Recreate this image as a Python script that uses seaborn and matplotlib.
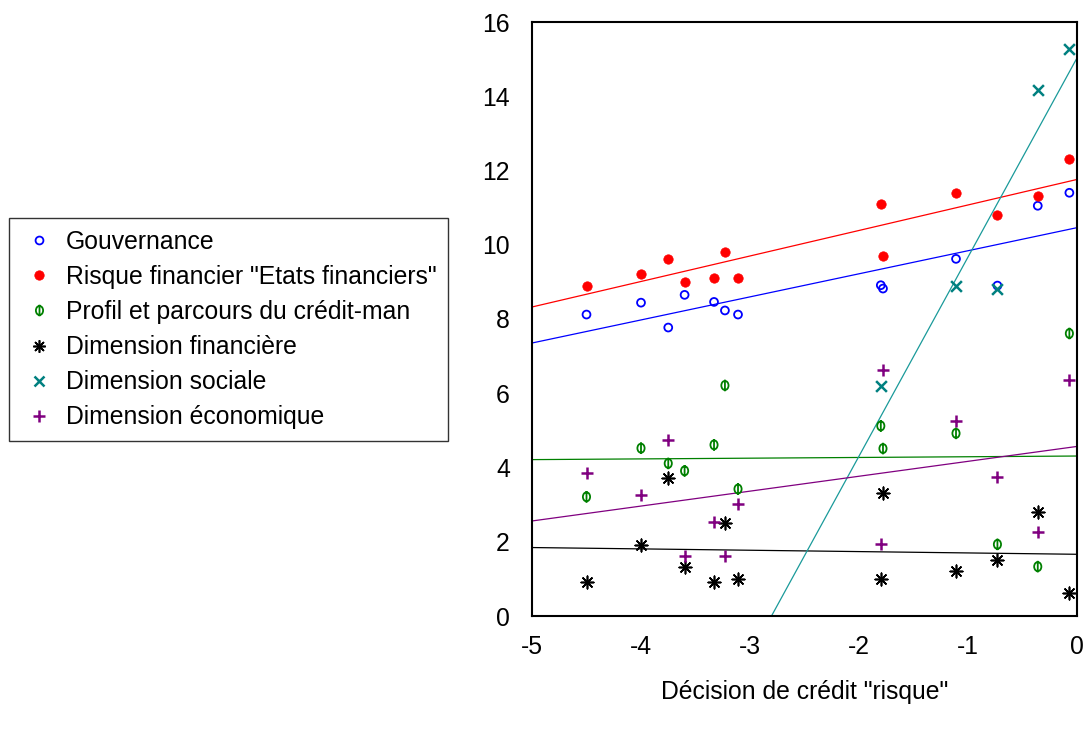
import numpy as np
import pandas as pd
import matplotlib
matplotlib.use("Agg")
import matplotlib.pyplot as plt
from matplotlib.path import Path
from matplotlib.lines import Line2D
import seaborn as sns

# ---- data ----
x_risque = [-4.50, -4.00, -3.75, -3.60, -3.33, -3.23, -3.11, -1.80, -1.78, -1.11, -0.73, -0.36, -0.07]
gouvernance = [8.12, 8.44, 7.77, 8.65, 8.46, 8.23, 8.12, 8.91, 8.82, 9.62, 8.90, 11.05, 11.40]
risque_fin = [8.90, 9.20, 9.61, 9.00, 9.10, 9.80, 9.10, 11.10, 9.70, 11.40, 10.80, 11.30, 12.30]
profil = [3.21, 4.52, 4.11, 3.91, 4.61, 6.21, 3.42, 5.12, 4.51, 4.92, 1.93, 1.33, 7.61]
dim_fin = [0.91, 1.91, 3.71, 1.31, 0.91, 2.51, 1.01, 1.01, 3.32, 1.22, 1.51, 2.81, 0.61]
dim_soc = [np.nan] * 7 + [6.19, np.nan, 8.90, 8.80, 14.17, 15.27]
dim_eco = [3.85, 3.25, 4.74, 1.61, 2.53, 1.61, 3.03, 1.93, 6.62, 5.24, 3.75, 2.25, 6.37]

labels = ["Gouvernance", 'Risque financier "Etats financiers"', "Profil et parcours du crédit-man",
          "Dimension financière", "Dimension sociale", "Dimension économique"]
series = [gouvernance, risque_fin, profil, dim_fin, dim_soc, dim_eco]
x_ticks = [-5, -4, -3, -2, -1, 0]
y_ticks = [0, 2, 4, 6, 8, 10, 12, 14, 16]
xlabel = 'Décision de crédit "risque"'

sns.set_style("white")
plt.rcParams["font.family"] = ["Liberation Sans", "DejaVu Sans"]
plt.rcParams["axes.unicode_minus"] = False
plt.rcParams["text.color"] = "black"
plt.rcParams["axes.labelcolor"] = "black"
plt.rcParams["xtick.color"] = "black"
plt.rcParams["ytick.color"] = "black"
plt.rcParams["xtick.labelcolor"] = "black"
plt.rcParams["ytick.labelcolor"] = "black"

# phi-like marker: ellipse with vertical bar
circ = Path.unit_circle()
ell = Path(circ.vertices * np.array([0.62, 0.78]), circ.codes)
bar = Path([(0, -1.0), (0, 1.0)], [Path.MOVETO, Path.LINETO])
phi = Path.make_compound_path(ell, bar)

colors = ["#0000FF", "#FF0000", "#008000", "#000000", "#008080", "#800080"]
line_colors = ["#0000FF", "#FF0000", "#008000", "#000000", "#1a9a9a", "#800080"]
markers = ["o", "o", phi, (8, 2, 0), "x", "+"]
sizes = [32, 46, 70, 80, 60, 75]
faces = ["none", "#FF0000", "none", "#000000", "#008080", "#800080"]
lws = [1.3, 0.5, 1.3, 1.2, 1.8, 1.8]

fig = plt.figure(figsize=(10.89, 7.31), dpi=100)
ax = fig.add_axes([532 / 1089, 1 - 616 / 731, 545 / 1089, 594 / 731])
ax.set_xlim(-5, 0)
ax.set_ylim(0, 16)

df = pd.DataFrame({"x": x_risque})
for lab, vals, c, lc, m, s, fc, lw in zip(labels, series, colors, line_colors, markers, sizes, faces, lws):
    df["y"] = vals
    sns.regplot(data=df, x="x", y="y", ax=ax, ci=None, truncate=False, color=c,
                marker=m,
                scatter_kws=dict(s=s, facecolors=fc, edgecolors=c, linewidths=lw, alpha=1, zorder=3),
                line_kws=dict(lw=0.9, alpha=1, zorder=2, color=lc))

ax.set_xlim(-5, 0)
ax.set_ylim(0, 16)
ax.set_xticks(x_ticks)
ax.set_yticks(y_ticks)
ax.set_xticklabels([str(t) for t in x_ticks])
ax.set_yticklabels([str(t) for t in y_ticks])
ax.tick_params(axis="x", direction="out", length=8.6, width=1, pad=5, labelsize=17.8,
               color="#222222", labelcolor="black")
ax.tick_params(axis="y", direction="out", length=9.4, width=1, pad=6.5, labelsize=17.8,
               color="#222222", labelcolor="black")
ax.set_xlabel(xlabel, fontsize=17.8, labelpad=15, color="black")
ax.set_ylabel("")
for sp in ax.spines.values():
    sp.set_visible(True)
    sp.set_color("black")
    sp.set_linewidth(1.5)

handles = []
for c, m, s, fc, lw in zip(colors, markers, sizes, faces, lws):
    handles.append(Line2D([], [], linestyle="none", marker=m, markersize=np.sqrt(s),
                          markerfacecolor=fc, markeredgecolor=c, markeredgewidth=lw, color=c))

leg = fig.legend(handles, labels, loc="upper left",
                 bbox_to_anchor=(9 / 1089, 1 - 218 / 731), bbox_transform=fig.transFigure,
                 fontsize=17.8, frameon=True, fancybox=False, shadow=False,
                 borderpad=0.48, handlelength=1.46, handletextpad=0.36, labelspacing=0.45,
                 borderaxespad=0)
leg.get_frame().set_edgecolor("black")
leg.get_frame().set_linewidth(1.0)
for t in leg.get_texts():
    t.set_color("black")

fig.savefig("out.png", dpi=100)
